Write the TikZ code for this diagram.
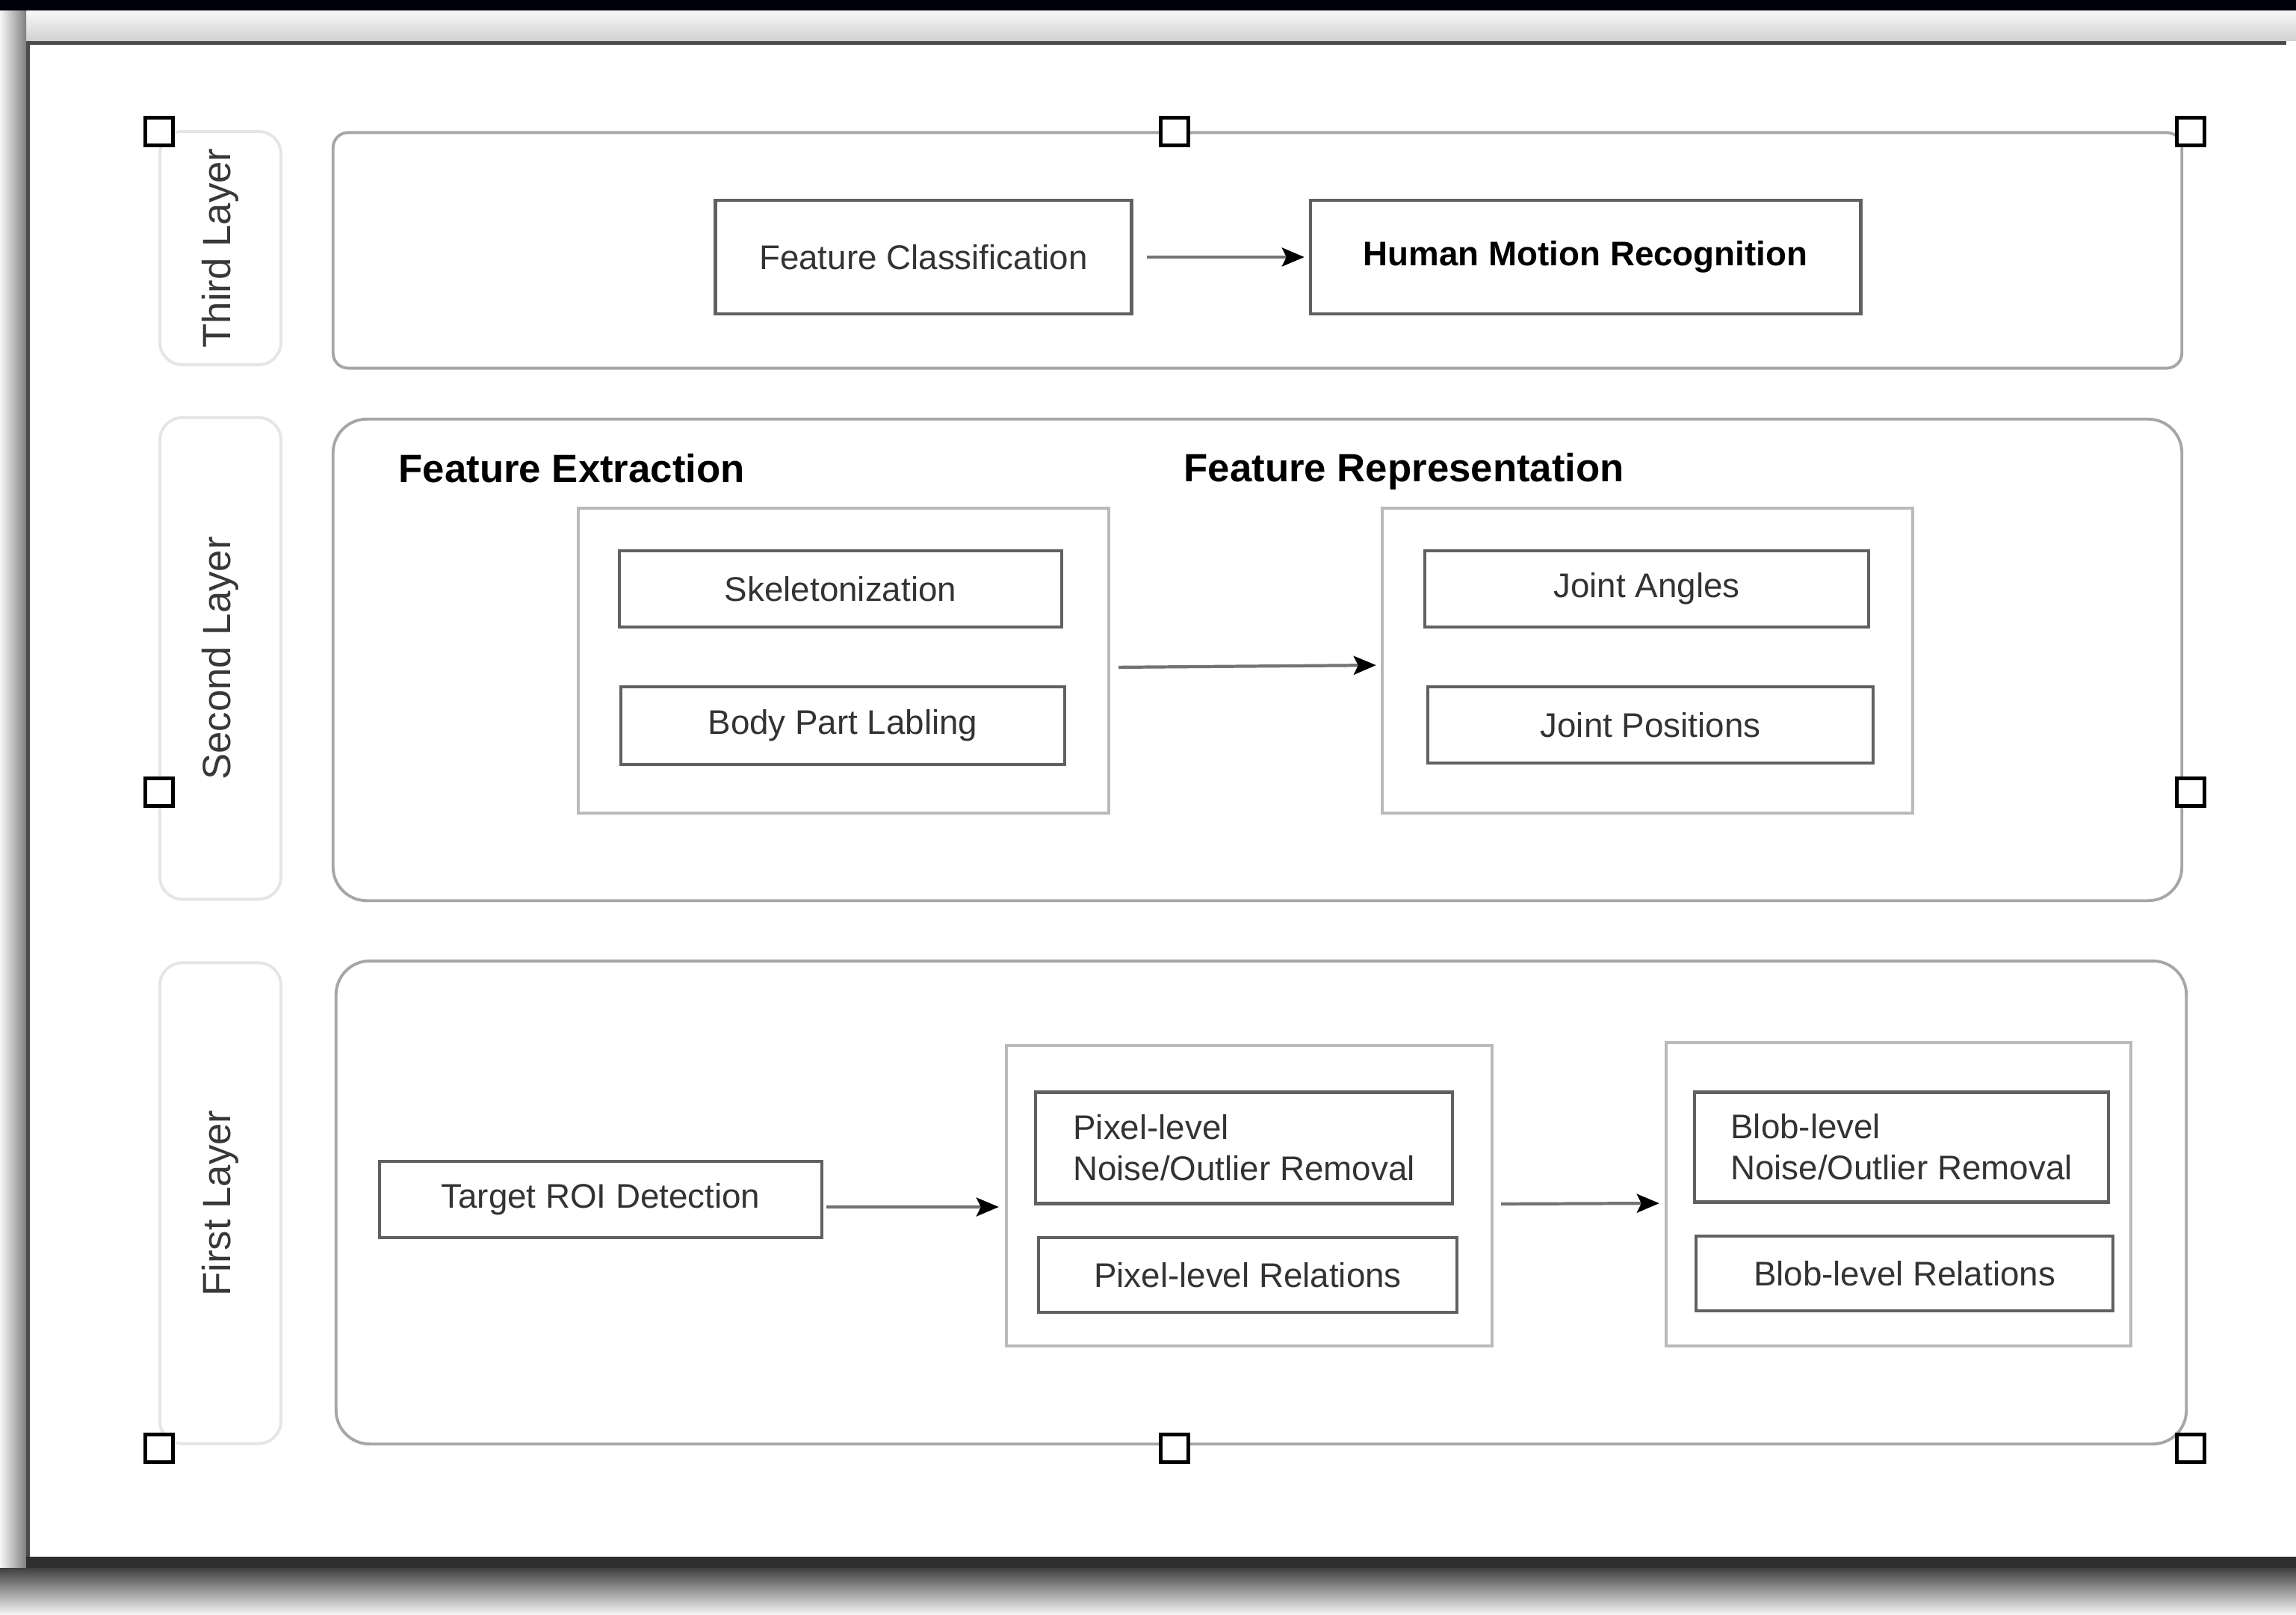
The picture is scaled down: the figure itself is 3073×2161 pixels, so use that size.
\documentclass[tikz,border=0pt]{standalone}
\usepackage{fontspec}
\setmainfont{Liberation Sans}
\usetikzlibrary{arrows.meta}

\begin{document}
\begin{tikzpicture}[x=0.01cm, y=-0.01cm,
    font=\fontsize{13}{15.6}\selectfont,
    layertag/.style={draw=black!10, line width=1.1pt, rounded corners=0.3cm, inner sep=0pt, outer sep=0pt, text=black!78, font=\fontsize{15}{18}\selectfont},
    layerbox/.style={draw=black!35, line width=1.1pt, inner sep=0pt, outer sep=0pt},
    groupbox/.style={draw=black!27, line width=1.1pt, inner sep=0pt, outer sep=0pt},
    stepbox/.style={draw=black!62, line width=1.3pt, fill=white, inner sep=0pt, outer sep=0pt, text=black!80},
    heading/.style={font=\fontsize{15}{18}\selectfont\bfseries, inner sep=0pt, anchor=west},
    flow/.style={draw=black!55, line width=1.2pt, -{Stealth[length=0.3cm, width=0.25cm, inset=0.06cm, black]}},
    handle/.style={draw=black, line width=1.4pt, fill=white, minimum size=0.37cm, inner sep=0pt}]
  \useasboundingbox (0,0) rectangle (3073,2161);
  % screen and page
  \fill[white] (0,0) rectangle (3073,2161);
  \fill[black!96!blue] (0,0) rectangle (3073,15);
  \shade[top color=black!3, bottom color=black!18] (0,15) rectangle (3073,55);
  \shade[left color=black!3, right color=black!50] (0,15) rectangle (35,2161);
  \fill[black!70] (35,55) rectangle (3060,60);
  \fill[black!70] (35,55) rectangle (40,2083);
  \fill[black!82] (35,2083) rectangle (3073,2098);
  \shade[top color=black!75, bottom color=black!3] (0,2098) rectangle (3073,2161);
  %
  \node[layertag, rotate=90, minimum width=3.12cm, minimum height=1.62cm] (thirdtag) at (295,332) {Third Layer};
  \node[layertag, rotate=90, minimum width=6.44cm, minimum height=1.62cm] (secondtag) at (295,881) {Second Layer};
  \node[layertag, rotate=90, minimum width=6.43cm, minimum height=1.62cm] (firsttag) at (295,1610) {First Layer};
  %
  \node[layerbox, rounded corners=0.2cm, minimum width=24.73cm, minimum height=3.15cm] (thirdlayer) at (1683,335) {};
  \node[layerbox, rounded corners=0.45cm, minimum width=24.73cm, minimum height=6.44cm] (secondlayer) at (1683,883) {};
  \node[layerbox, rounded corners=0.45cm, minimum width=24.75cm, minimum height=6.46cm] (firstlayer) at (1688,1609) {};
  %
  % third layer
  \node[stepbox, minimum width=5.57cm, minimum height=1.52cm] (classify) at (1236,344) {Feature Classification};
  \node[stepbox, minimum width=7.36cm, minimum height=1.52cm, text=black, font=\fontsize{13}{15.6}\selectfont\bfseries] (recognize) at (2122,344) {Human Motion Recognition};
  \draw[flow, shorten <=0.2cm, shorten >=0.08cm] (classify) -- (recognize);
  %
  % second layer
  \node[heading] (extracthead) at (533,627) {Feature Extraction};
  \node[heading] (representhead) at (1584,631) {Feature Representation};
  \node[groupbox, minimum width=7.10cm, minimum height=4.08cm] (extract) at (1129,884) {};
  \node[groupbox, minimum width=7.10cm, minimum height=4.08cm] (represent) at (2205,884) {};
  \node[stepbox, minimum width=5.92cm, minimum height=1.02cm] (skeleton) at (1125,788) {Skeletonization};
  \node[stepbox, minimum width=5.94cm, minimum height=1.04cm] (bodypart) at (1128,971) {Body Part Labling};
  \node[stepbox, minimum width=5.94cm, minimum height=1.02cm] (angles) at (2204,788) {Joint Angles};
  \node[stepbox, minimum width=5.96cm, minimum height=1.02cm] (positions) at (2209,970) {Joint Positions};
  \draw[flow, shorten <=0.13cm, shorten >=0.08cm] ([yshift=-0.09cm]extract.east) -- ([yshift=-0.06cm]represent.west);
  %
  % first layer
  \node[stepbox, minimum width=5.92cm, minimum height=1.02cm] (roi) at (804,1605) {Target ROI Detection};
  \node[groupbox, minimum width=6.50cm, minimum height=4.02cm] (pixel) at (1672,1600) {};
  \node[groupbox, minimum width=6.22cm, minimum height=4.05cm] (blob) at (2541,1598) {};
  \node[stepbox, minimum width=5.58cm, minimum height=1.49cm, align=left] (pixnoise) at (1665,1536) {Pixel-level\\Noise/Outlier Removal};
  \node[stepbox, minimum width=5.60cm, minimum height=1.00cm] (pixrel) at (1670,1706) {Pixel-level Relations};
  \node[stepbox, minimum width=5.54cm, minimum height=1.47cm, align=left] (blobnoise) at (2545,1535) {Blob-level\\Noise/Outlier Removal};
  \node[stepbox, minimum width=5.58cm, minimum height=1.00cm] (blobrel) at (2549,1704) {Blob-level Relations};
  \draw[flow, shorten <=0.06cm, shorten >=0.1cm] ([yshift=-0.1cm]roi.east) -- ([yshift=-0.15cm]pixel.west);
  \draw[flow, shorten <=0.12cm, shorten >=0.09cm] ([yshift=-0.11cm]pixel.east) -- ([yshift=-0.12cm]blob.west);
  %
  % selection handles
  \foreach \hx/\hy [count=\i] in {213/176, 1572/176, 2932/176, 213/1060, 2932/1060, 213/1938, 1572/1938, 2932/1938}
    \node[handle] (handle\i) at (\hx,\hy) {};
\end{tikzpicture}
\end{document}
